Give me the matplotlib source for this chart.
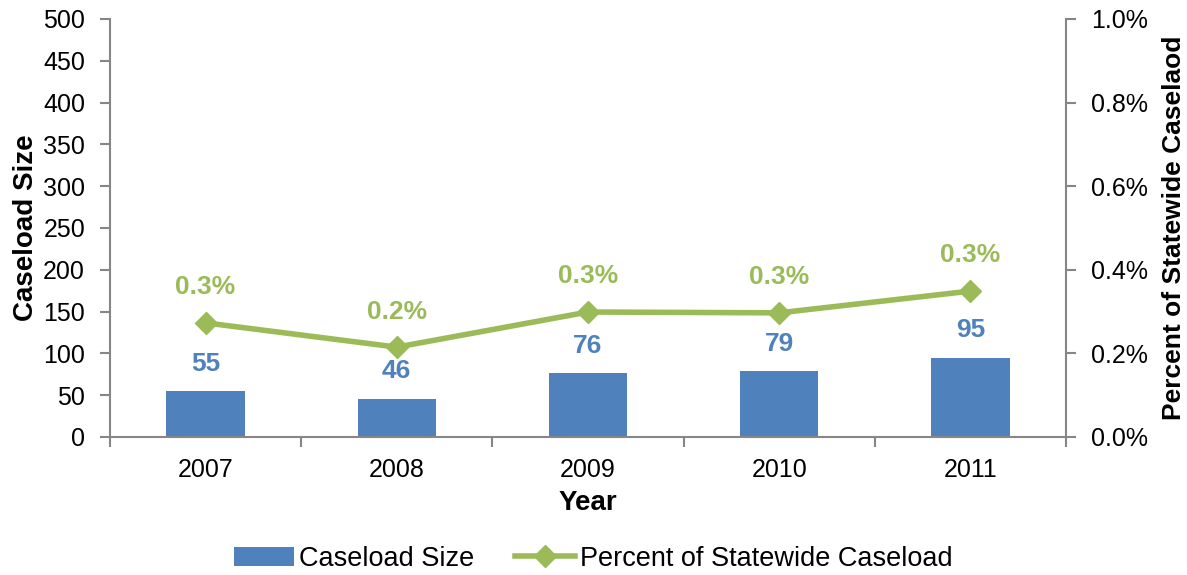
import matplotlib.pyplot as plt
import numpy as np
from matplotlib.ticker import FuncFormatter, FixedLocator

plt.rcParams['font.family'] = ['Liberation Sans', 'DejaVu Sans']

years = ['2007', '2008', '2009', '2010', '2011']
caseload = [55, 46, 76, 79, 95]
percent = [0.273, 0.215, 0.299, 0.297, 0.349]
pct_labels = ['0.3%', '0.2%', '0.3%', '0.3%', '0.3%']

blue = '#4F81BD'
green = '#9BBB59'
axcol = '#868686'

fig = plt.figure(figsize=(11.87, 5.75), dpi=100)
ax = fig.add_axes([0.0927, 0.24, 0.8053, 0.727])
ax2 = ax.twinx()

x = np.arange(len(years))
bars = ax.bar(x, caseload, width=0.41, color=blue, label='Caseload Size', zorder=2)
ln, = ax2.plot(x, percent, color=green, lw=4, marker='D', ms=11,
               label='Percent of Statewide Caseload', zorder=3)

# data labels
for xi, v in zip(x, caseload):
    ax.annotate(str(v), (xi, v), xytext=(0, 11), textcoords='offset points',
                ha='center', va='bottom', color=blue, fontsize=19, fontweight='bold')
for xi, v, t in zip(x, percent, pct_labels):
    ax2.annotate(t, (xi, v), xytext=(0, 17), textcoords='offset points',
                 ha='center', va='bottom', color=green, fontsize=19, fontweight='bold')

ax.set_xlim(-0.5, len(years) - 0.5)
ax.set_ylim(0, 500)
ax.set_yticks(np.arange(0, 501, 50))
ax2.set_ylim(0, 1.0)
ax2.set_yticks(np.arange(0, 1.01, 0.2))
ax2.yaxis.set_major_formatter(FuncFormatter(lambda v, p: '%.1f%%' % v))

ax.set_xticks(x)
ax.set_xticklabels(years)
ax.xaxis.set_minor_locator(FixedLocator(np.arange(-0.5, len(years), 1.0)))
ax.tick_params(axis='x', which='major', length=0, pad=15)
ax.tick_params(axis='x', which='minor', length=7, color=axcol, width=1.5)

for a in (ax, ax2):
    a.spines['top'].set_visible(False)
    a.tick_params(axis='y', length=7, color=axcol, width=1.5, labelsize=18, pad=11)
    a.tick_params(axis='x', labelsize=18)
ax.spines['right'].set_visible(False)
ax2.spines['left'].set_visible(False)
ax2.spines['bottom'].set_visible(False)
for s in ['left', 'bottom']:
    ax.spines[s].set_color(axcol)
    ax.spines[s].set_linewidth(1.5)
ax2.spines['right'].set_color(axcol)
ax2.spines['right'].set_linewidth(1.5)

ax.set_xlabel('Year', fontsize=20, fontweight='bold', labelpad=6)
ax.set_ylabel('Caseload Size', fontsize=20, fontweight='bold', labelpad=3)
ax2.set_ylabel('Percent of Statewide Caselaod', fontsize=19, fontweight='bold', labelpad=10)

fig.legend([bars, ln], ['Caseload Size', 'Percent of Statewide Caseload'],
           loc='center', bbox_to_anchor=(0.5, 0.028), ncol=2, frameon=False,
           fontsize=19.5, handlelength=2.2, columnspacing=1.5, handletextpad=0.2)

fig.savefig('out.png', dpi=100)
